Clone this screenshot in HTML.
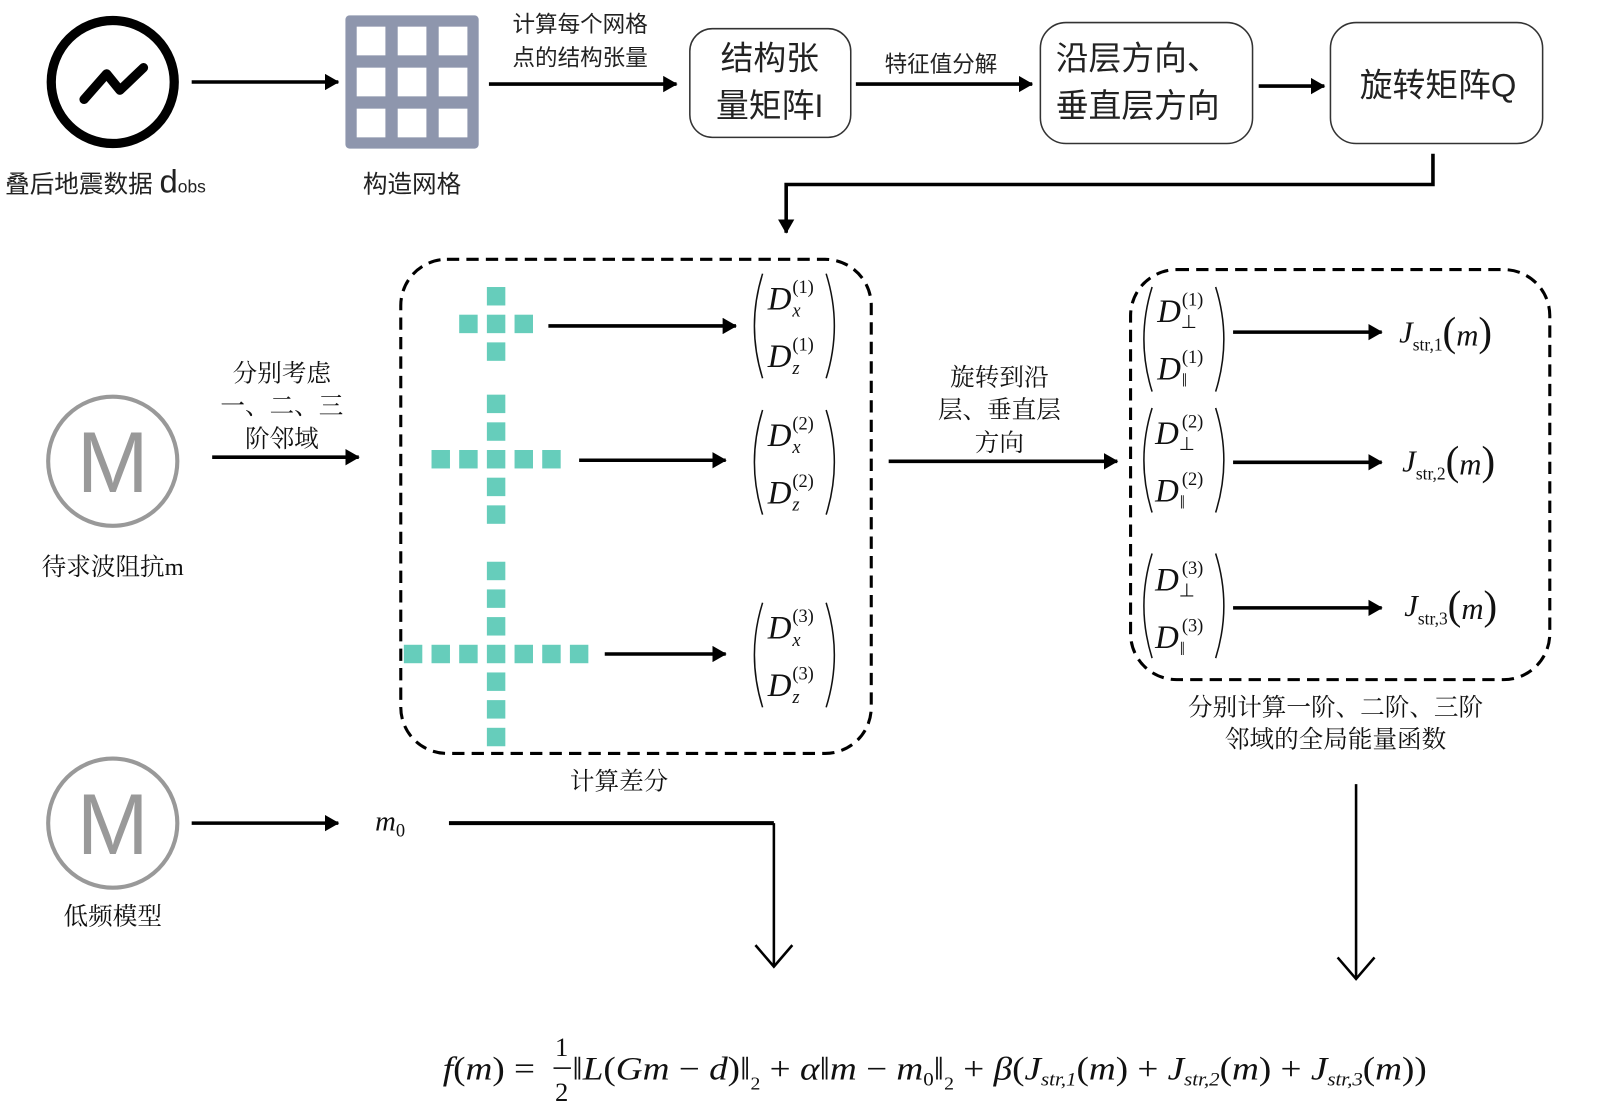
<!DOCTYPE html>
<html><head><meta charset="utf-8"><style>
html,body{margin:0;padding:0;background:#fff;}
svg{display:block;}
.cn{font-family:"Liberation Sans","Noto Sans CJK SC",sans-serif;fill:#222;}
.ser{font-family:"Liberation Serif","Noto Serif CJK SC",serif;fill:#111;}
.m{font-family:"Liberation Serif",serif;font-style:italic;fill:#111;}
.r{font-family:"Liberation Serif",serif;fill:#111;}
</style></head><body>
<svg width="1599" height="1104" viewBox="0 0 1560 1077" preserveAspectRatio="none" xmlns="http://www.w3.org/2000/svg">
<defs>
<marker id="a2" markerWidth="14" markerHeight="16" refX="13" refY="8" orient="auto" markerUnits="userSpaceOnUse" viewBox="0 0 14 16">
<path d="M0,0 L14,8 L0,16 z" fill="#000"/></marker>
</defs>
<g stroke="#000" stroke-width="3.5" fill="none">
<line x1="187" y1="80" x2="330" y2="80" marker-end="url(#a2)"/>
<line x1="477" y1="82" x2="660" y2="82" marker-end="url(#a2)"/>
<line x1="835" y1="82" x2="1007" y2="82" marker-end="url(#a2)"/>
<line x1="1228" y1="84" x2="1292" y2="84" marker-end="url(#a2)"/>
<polyline points="1398,150 1398,180 767,180 767,227" marker-end="url(#a2)"/>
<line x1="207" y1="446" x2="350" y2="446" marker-end="url(#a2)"/>
<line x1="535" y1="318" x2="718" y2="318" marker-end="url(#a2)"/>
<line x1="565" y1="449" x2="708" y2="449" marker-end="url(#a2)"/>
<line x1="590" y1="638" x2="708" y2="638" marker-end="url(#a2)"/>
<line x1="867" y1="450" x2="1090" y2="450" marker-end="url(#a2)"/>
<line x1="1203" y1="324" x2="1348" y2="324" marker-end="url(#a2)"/>
<line x1="1203" y1="451" x2="1348" y2="451" marker-end="url(#a2)"/>
<line x1="1203" y1="593" x2="1348" y2="593" marker-end="url(#a2)"/>
<line x1="187" y1="803" x2="330" y2="803" marker-end="url(#a2)"/>
<polyline points="438,803 755,803" stroke-width="4"/>
</g>
<g stroke="#000" stroke-width="2.5" fill="none">
<line x1="755" y1="803" x2="755" y2="943"/>
<polyline points="737,922 755,943 773,922"/>
<line x1="1323" y1="765" x2="1323" y2="955"/>
<polyline points="1305,934 1323,955 1341,934"/>
</g>
<circle cx="110" cy="80" r="60" fill="none" stroke="#000" stroke-width="9"/>
<polyline points="82,97 104,72 117,88 140,66" fill="none" stroke="#000" stroke-width="9" stroke-linejoin="round" stroke-linecap="round"/>
<text x="5" y="188" class="cn" font-size="24">叠后地震数据 <tspan font-size="32">d</tspan><tspan font-size="17">obs</tspan></text>
<rect x="337" y="15" width="130" height="130" rx="4" fill="#8e96ad"/>
<g fill="#fff">
<rect x="348" y="26" width="28" height="28"/><rect x="388" y="26" width="28" height="28"/><rect x="428" y="26" width="28" height="28"/>
<rect x="348" y="66" width="28" height="28"/><rect x="388" y="66" width="28" height="28"/><rect x="428" y="66" width="28" height="28"/>
<rect x="348" y="106" width="28" height="28"/><rect x="388" y="106" width="28" height="28"/><rect x="428" y="106" width="28" height="28"/>
</g>
<text x="402" y="188" class="cn" font-size="24" text-anchor="middle">构造网格</text>
<text x="566" y="31" class="cn" font-size="22" text-anchor="middle">计算每个网格</text>
<text x="566" y="64" class="cn" font-size="22" text-anchor="middle">点的结构张量</text>
<rect x="673" y="28" width="157" height="106" rx="22" fill="none" stroke="#333" stroke-width="1.5"/>
<text x="751" y="68" class="cn" font-size="32" text-anchor="middle">结构张</text>
<text x="751" y="114" class="cn" font-size="32" text-anchor="middle">量矩阵I</text>
<text x="918" y="70" class="cn" font-size="22" text-anchor="middle">特征值分解</text>
<rect x="1015" y="22" width="207" height="118" rx="25" fill="none" stroke="#333" stroke-width="1.5"/>
<text x="1030" y="68" class="cn" font-size="32">沿层方向、</text>
<text x="1030" y="114" class="cn" font-size="32">垂直层方向</text>
<rect x="1298" y="22" width="207" height="118" rx="25" fill="none" stroke="#333" stroke-width="1.5"/>
<text x="1403" y="94" class="cn" font-size="32" text-anchor="middle">旋转矩阵Q</text>
<circle cx="110" cy="450" r="63" fill="none" stroke="#999" stroke-width="4"/>
<text x="110" y="480" font-family="Liberation Sans,sans-serif" font-size="84" fill="#999" text-anchor="middle">M</text>
<text x="110" y="561" class="ser" font-size="24" text-anchor="middle">待求波阻抗m</text>
<circle cx="110" cy="803" r="63" fill="none" stroke="#999" stroke-width="4"/>
<text x="110" y="833" font-family="Liberation Sans,sans-serif" font-size="84" fill="#999" text-anchor="middle">M</text>
<text x="110" y="902" class="ser" font-size="24" text-anchor="middle">低频模型</text>
<text x="275" y="372" class="ser" font-size="24" text-anchor="middle">分别考虑</text>
<text x="275" y="404" class="ser" font-size="24" text-anchor="middle">一、二、三</text>
<text x="275" y="436" class="ser" font-size="24" text-anchor="middle">阶邻域</text>
<text x="366" y="810" class="m" font-size="28">m<tspan class="r" font-style="normal" font-size="18" dy="6">0</tspan></text>
<rect x="391" y="253" width="459" height="482" rx="45" fill="none" stroke="#000" stroke-width="3" stroke-dasharray="12 7"/>
<g fill="#66cdbb">
<rect x="475" y="280" width="18" height="18"/><rect x="448" y="307" width="18" height="18"/><rect x="475" y="307" width="18" height="18"/><rect x="502" y="307" width="18" height="18"/><rect x="475" y="334" width="18" height="18"/>
<rect x="475" y="385" width="18" height="18"/><rect x="475" y="412" width="18" height="18"/>
<rect x="421" y="439" width="18" height="18"/><rect x="448" y="439" width="18" height="18"/><rect x="475" y="439" width="18" height="18"/><rect x="502" y="439" width="18" height="18"/><rect x="529" y="439" width="18" height="18"/>
<rect x="475" y="466" width="18" height="18"/><rect x="475" y="493" width="18" height="18"/>
<rect x="475" y="548" width="18" height="18"/><rect x="475" y="575" width="18" height="18"/><rect x="475" y="602" width="18" height="18"/>
<rect x="394" y="629" width="18" height="18"/><rect x="421" y="629" width="18" height="18"/><rect x="448" y="629" width="18" height="18"/><rect x="475" y="629" width="18" height="18"/><rect x="502" y="629" width="18" height="18"/><rect x="529" y="629" width="18" height="18"/><rect x="556" y="629" width="18" height="18"/>
<rect x="475" y="656" width="18" height="18"/><rect x="475" y="683" width="18" height="18"/><rect x="475" y="710" width="18" height="18"/>
</g>
<g fill="none" stroke="#111" stroke-width="1.5">
<path d="M744,267 Q728,318 744,369"/><path d="M806,267 Q822,318 806,369"/>
<path d="M744,400 Q728,451 744,502"/><path d="M806,400 Q822,451 806,502"/>
<path d="M744,588 Q728,639 744,690"/><path d="M806,588 Q822,639 806,690"/>
<path d="M1124,280 Q1108,331 1124,382"/><path d="M1186,280 Q1202,331 1186,382"/>
<path d="M1124,398 Q1108,449 1124,500"/><path d="M1186,398 Q1202,449 1186,500"/>
<path d="M1124,540 Q1108,591 1124,642"/><path d="M1186,540 Q1202,591 1186,642"/>
</g>
<g class="m" font-size="32">
<text x="749" y="302">D</text><text x="749" y="358">D</text>
<text x="749" y="435">D</text><text x="749" y="491">D</text>
<text x="749" y="623">D</text><text x="749" y="679">D</text>
<text x="1129" y="314">D</text><text x="1129" y="370">D</text>
<text x="1127" y="433">D</text><text x="1127" y="489">D</text>
<text x="1127" y="576">D</text><text x="1127" y="632">D</text>
</g>
<g class="r" font-size="18">
<text x="773" y="286">(1)</text><text x="773" y="342">(1)</text>
<text x="773" y="419">(2)</text><text x="773" y="475">(2)</text>
<text x="773" y="607">(3)</text><text x="773" y="663">(3)</text>
<text x="1153" y="298">(1)</text><text x="1153" y="354">(1)</text>
<text x="1153" y="417">(2)</text><text x="1153" y="473">(2)</text>
<text x="1153" y="560">(3)</text><text x="1153" y="616">(3)</text>
</g>
<g class="m" font-size="18">
<text x="773" y="309">x</text><text x="773" y="365">z</text>
<text x="773" y="442">x</text><text x="773" y="498">z</text>
<text x="773" y="630">x</text><text x="773" y="686">z</text>
</g>
<g class="r" font-size="18">
<text x="1152" y="320">⊥</text><text x="1153" y="377">‖</text>
<text x="1150" y="439">⊥</text><text x="1151" y="496">‖</text>
<text x="1150" y="582">⊥</text><text x="1151" y="639">‖</text>
</g>
<text x="604" y="770" class="ser" font-size="24" text-anchor="middle">计算差分</text>
<text x="975" y="376" class="ser" font-size="24" text-anchor="middle">旋转到沿</text>
<text x="975" y="408" class="ser" font-size="24" text-anchor="middle">层、垂直层</text>
<text x="975" y="440" class="ser" font-size="24" text-anchor="middle">方向</text>
<rect x="1103" y="263" width="409" height="400" rx="45" fill="none" stroke="#000" stroke-width="3" stroke-dasharray="12 7"/>
<text x="1365" y="334" class="m" font-size="30">J<tspan class="r" font-style="normal" font-size="17" dy="8">str,1</tspan><tspan class="r" font-style="normal" font-size="40" dy="-5">(</tspan>m<tspan class="r" font-style="normal" font-size="40">)</tspan></text>
<text x="1368" y="460" class="m" font-size="30">J<tspan class="r" font-style="normal" font-size="17" dy="8">str,2</tspan><tspan class="r" font-style="normal" font-size="40" dy="-5">(</tspan>m<tspan class="r" font-style="normal" font-size="40">)</tspan></text>
<text x="1370" y="601" class="m" font-size="30">J<tspan class="r" font-style="normal" font-size="17" dy="8">str,3</tspan><tspan class="r" font-style="normal" font-size="40" dy="-5">(</tspan>m<tspan class="r" font-style="normal" font-size="40">)</tspan></text>
<text x="1303" y="698" class="ser" font-size="24" text-anchor="middle">分别计算一阶、二阶、三阶</text>
<text x="1303" y="729" class="ser" font-size="24" text-anchor="middle">邻域的全局能量函数</text>
<text x="432" y="1053" class="m" font-size="32" textLength="960" lengthAdjust="spacingAndGlyphs">f<tspan class="r" font-style="normal">(</tspan>m<tspan class="r" font-style="normal">) = </tspan><tspan fill="#fff">½</tspan><tspan class="r" font-style="normal">‖</tspan>L<tspan class="r" font-style="normal">(</tspan>Gm<tspan class="r" font-style="normal"> − </tspan>d<tspan class="r" font-style="normal">)‖</tspan><tspan class="r" font-style="normal" font-size="17" dy="10">2</tspan><tspan class="r" font-style="normal" dy="-10"> + </tspan>α<tspan class="r" font-style="normal">‖</tspan>m<tspan class="r" font-style="normal"> − </tspan>m<tspan class="r" font-style="normal" font-size="18" dy="6">0</tspan><tspan class="r" font-style="normal" dy="-6">‖</tspan><tspan class="r" font-style="normal" font-size="17" dy="10">2</tspan><tspan class="r" font-style="normal" dy="-10"> + </tspan>β<tspan class="r" font-style="normal">(</tspan>J<tspan font-size="18" dy="6">str,1</tspan><tspan class="r" font-style="normal" dy="-6">(</tspan>m<tspan class="r" font-style="normal">) + </tspan>J<tspan font-size="18" dy="6">str,2</tspan><tspan class="r" font-style="normal" dy="-6">(</tspan>m<tspan class="r" font-style="normal">) + </tspan>J<tspan font-size="18" dy="6">str,3</tspan><tspan class="r" font-style="normal" dy="-6">(</tspan>m<tspan class="r" font-style="normal">))</tspan></text>
<text x="548" y="1030" class="r" font-size="26" text-anchor="middle">1</text>
<line x1="540" y1="1042" x2="557" y2="1042" stroke="#000" stroke-width="1.5"/>
<text x="548" y="1074" class="r" font-size="26" text-anchor="middle">2</text>
</svg>
</body></html>
